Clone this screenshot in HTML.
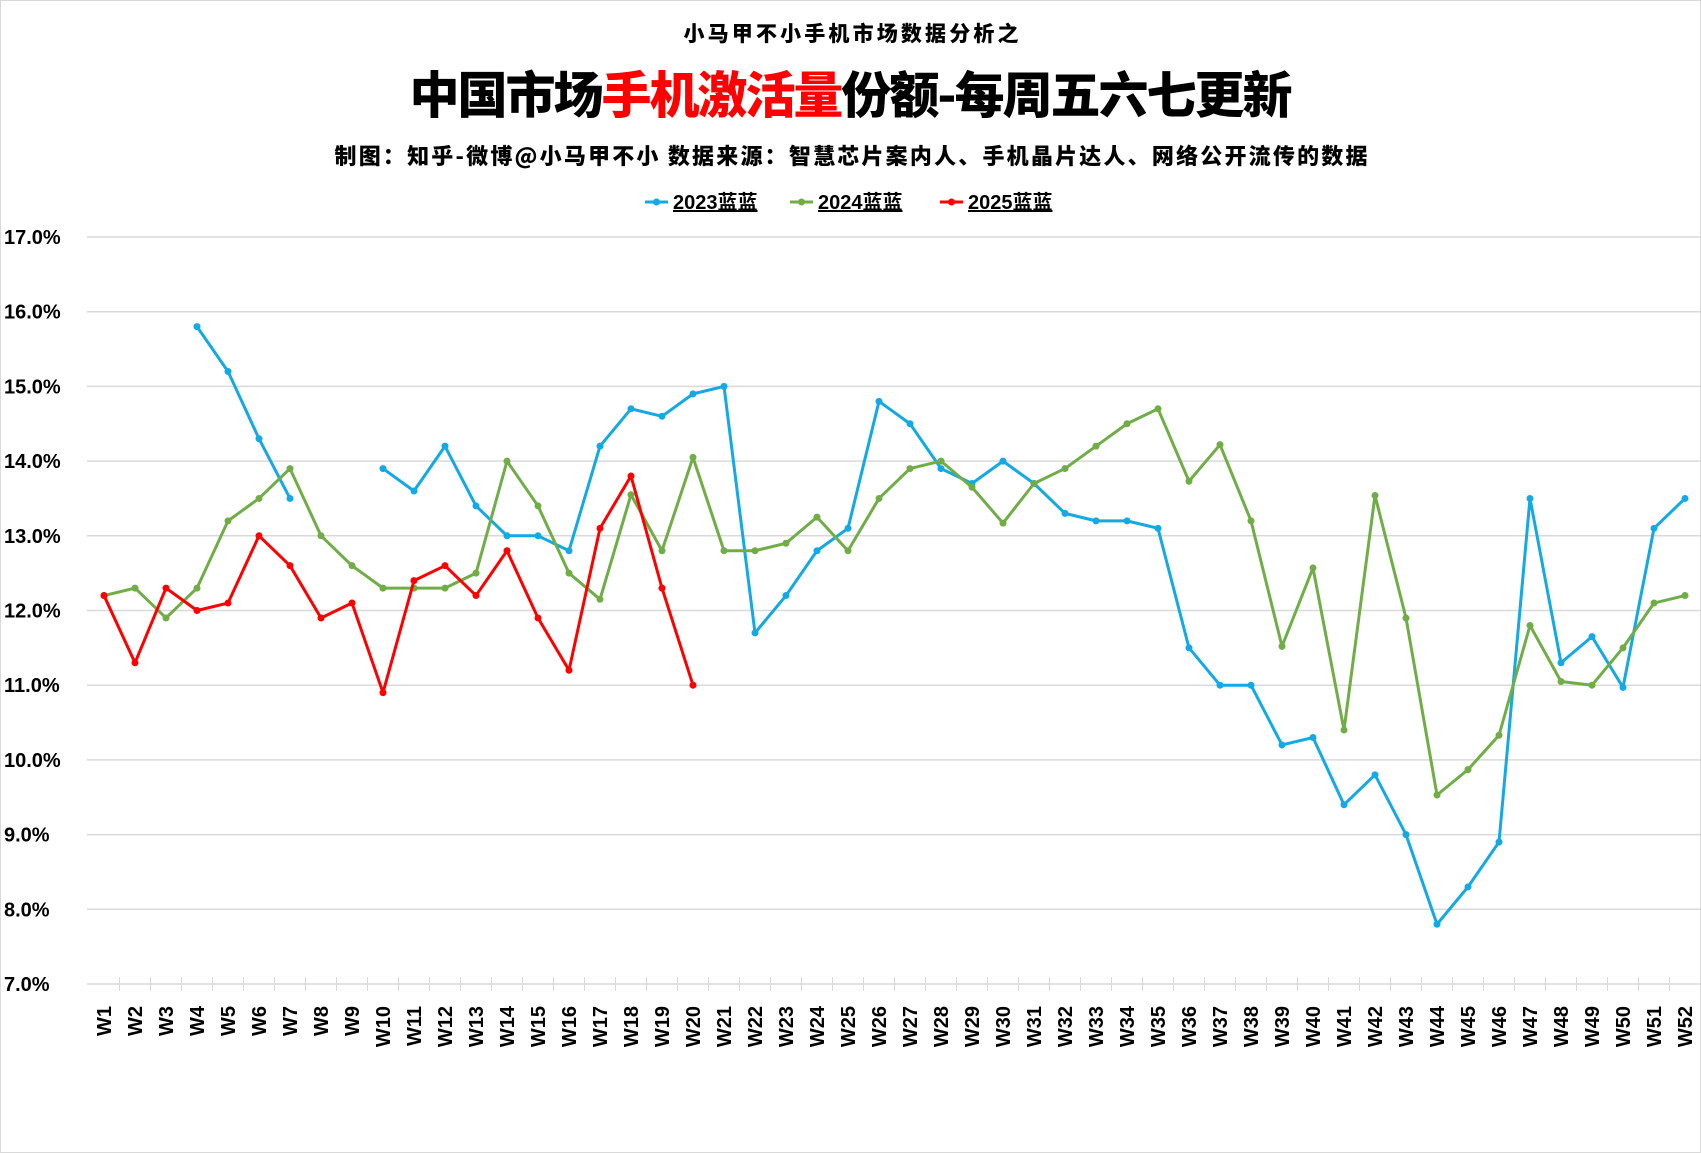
<!DOCTYPE html>
<html><head><meta charset="utf-8">
<style>
html,body{margin:0;padding:0;background:#fff;}
svg{display:block;}
text{font-family:"Liberation Sans","Noto Sans CJK SC",sans-serif;font-weight:bold;}
.cjk{font-family:"Noto Sans CJK SC","Liberation Sans",sans-serif;font-weight:900;}
</style></head>
<body>
<svg id="chart" width="1701" height="1153" viewBox="0 0 1701 1153" xmlns="http://www.w3.org/2000/svg">
<rect x="0.5" y="0.5" width="1700" height="1152" fill="#fff" stroke="#d9d9d9"/>
<text class="cjk" x="851" y="41" font-size="21" text-anchor="middle" textLength="335">小马甲不小手机市场数据分析之</text>
<text class="cjk" x="851" y="113" font-size="50" text-anchor="middle" textLength="883">中国市场<tspan fill="#ff0000">手机激活量</tspan>份额-每周五六七更新</text>
<text class="cjk" x="851" y="164" font-size="22" text-anchor="middle" textLength="1033">制图：知乎-微博@小马甲不小  数据来源：智慧芯片案内人、手机晶片达人、网络公开流传的数据</text>
<g id="legend"></g>
<g id="grid"></g>
<g id="yaxis"></g>
<g id="xaxis"></g>
<g id="series"></g>
</svg>
<script>
const categories = Array.from({length:52},(_,i)=>'W'+(i+1));
const yTicks = [7,8,9,10,11,12,13,14,15,16,17];
const seriesNames = ['2023蓝蓝','2024蓝蓝','2025蓝蓝'];
const s2023 = [null,null,null,15.8,15.2,14.3,13.5,null,null,13.9,13.6,14.2,13.4,13.0,13.0,12.8,14.2,14.7,14.6,14.9,15.0,11.7,12.2,12.8,13.1,14.8,14.5,13.9,13.7,14.0,13.7,13.3,13.2,13.2,13.1,11.5,11.0,11.0,10.2,10.3,9.4,9.8,9.0,7.8,8.3,8.9,13.5,11.3,11.65,10.97,13.1,13.5];
const s2024 = [12.2,12.3,11.9,12.3,13.2,13.5,13.9,13.0,12.6,12.3,12.3,12.3,12.5,14.0,13.4,12.5,12.15,13.55,12.8,14.05,12.8,12.8,12.9,13.25,12.8,13.5,13.9,14.0,13.65,13.17,13.7,13.9,14.2,14.5,14.7,13.73,14.22,13.2,11.52,12.57,10.4,13.54,11.9,9.53,9.87,10.33,11.8,11.05,11.0,11.5,12.1,12.2];
const s2025 = [12.2,11.3,12.3,12.0,12.1,13.0,12.6,11.9,12.1,10.9,12.4,12.6,12.2,12.8,11.9,11.2,13.1,13.8,12.3,11.0];
const colors = ['#12a9e4','#70ad47','#ff0000'];

const NS='http://www.w3.org/2000/svg';
const X0=104, XSTEP=31, YMIN=7, YMAX=17, Y0=984, Y1=237;
function xScale(i){return X0+i*XSTEP;}
function yScale(v){return Y0-(v-YMIN)/(YMAX-YMIN)*(Y0-Y1);}
function mk(tag,attrs,parent){const e=document.createElementNS(NS,tag);for(const k in attrs)e.setAttribute(k,attrs[k]);parent.appendChild(e);return e;}

const grid=document.getElementById('grid'), yaxis=document.getElementById('yaxis'), xaxis=document.getElementById('xaxis');
yTicks.forEach(t=>{
  const l=mk('line',{x1:87,x2:1701,y1:yScale(t),y2:yScale(t),stroke:'#d9d9d9','stroke-width':1.5},grid);
  
  
  const tx=mk('text',{x:4,y:yScale(t)+7,'font-size':20,fill:'#000'},yaxis);
  tx.textContent=t.toFixed(1)+'%';
  
  
});
categories.forEach((c,i)=>{
  const x=xScale(i);
  const tk=mk('line',{x1:x+XSTEP/2,x2:x+XSTEP/2,y1:977,y2:991,stroke:'#d9d9d9','stroke-width':1},xaxis);
  
  
  const tx=mk('text',{x:0,y:0,'font-size':20,fill:'#000','text-anchor':'end',transform:`translate(${x+7},1006) rotate(-90)`},xaxis);
  tx.textContent=c;
  
  
});

const seriesG=document.getElementById('series');
[s2023,s2024,s2025].forEach((arr,si)=>{
  const g=mk('g',{},seriesG);
  
  
  let d='',pen=false;
  arr.forEach((v,i)=>{
    if(v==null){pen=false;return;}
    d+=(pen?'L':'M')+xScale(i)+' '+yScale(v)+' ';pen=true;
  });
  const p=mk('path',{d:d,fill:'none',stroke:colors[si],'stroke-width':3,'stroke-linejoin':'round'},g);
  
  
  arr.forEach((v,i)=>{
    if(v==null)return;
    const c=mk('circle',{cx:xScale(i),cy:yScale(v),r:3.5,fill:colors[si]},g);
    
    
  });
});

const legend=document.getElementById('legend');
const legX=[645,790,940];
seriesNames.forEach((n,i)=>{
  const g=mk('g',{},legend);
  
  
  mk('line',{x1:legX[i],x2:legX[i]+23,y1:202,y2:202,stroke:colors[i],'stroke-width':3},g);
  mk('circle',{cx:legX[i]+11.5,cy:202,r:3.5,fill:colors[i]},g);
  const t=mk('text',{x:legX[i]+28,y:209,'font-size':20,fill:'#000','text-decoration':'underline'},g);
  t.textContent=n;
});
</script>
</body></html>
